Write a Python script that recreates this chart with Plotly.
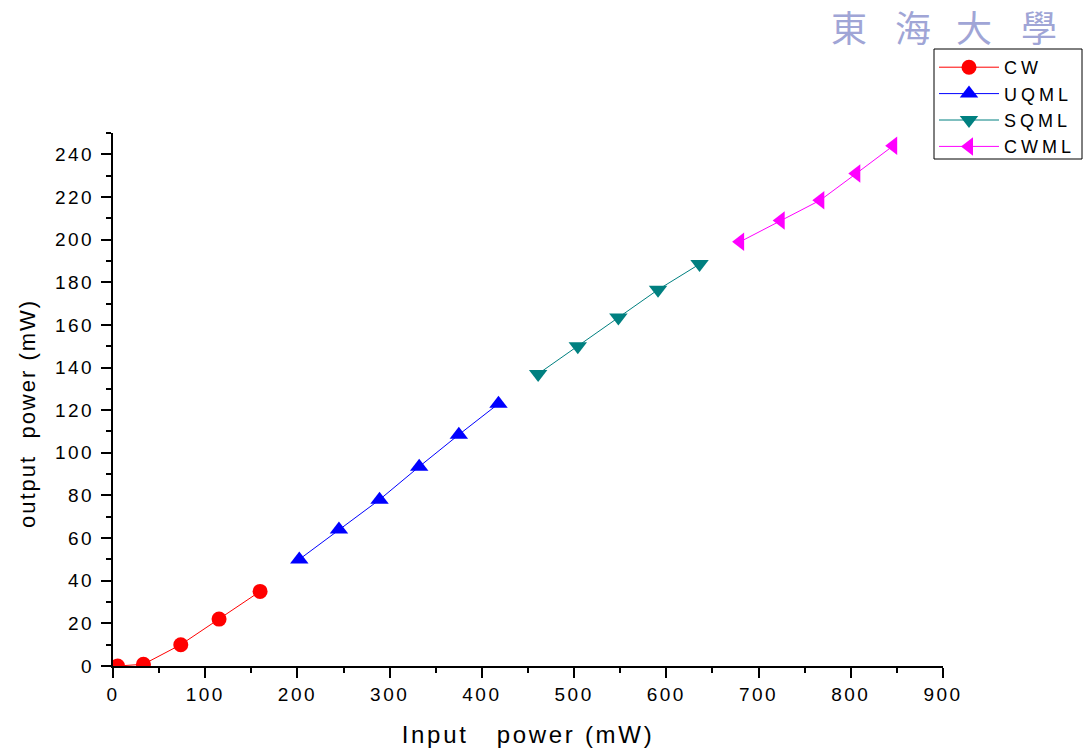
import plotly.graph_objects as go

# Input power (mW) and output power (mW) for each operating regime
cw_in = [5, 33, 73.5, 115, 159.5]
cw_out = [0, 0.8, 10, 22, 35]

uqml_in = [202, 245, 289, 332, 375, 418]
uqml_out = [50, 64, 78, 93.5, 108.5, 123]

sqml_in = [461, 504, 548, 591, 636]
sqml_out = [137, 150, 163.5, 176.5, 188.5]

cwml_in = [680, 724, 767, 806, 846]
cwml_out = [199, 209, 218.5, 231, 244]

x_ticks = [0, 100, 200, 300, 400, 500, 600, 700, 800, 900]
y_ticks = [0, 20, 40, 60, 80, 100, 120, 140, 160, 180, 200, 220, 240]

FONT = "Liberation Sans, Arial, sans-serif"

# Plot-area geometry in pixels, used to place paper-referenced items
L, R, T, B, W, H = 113, 144, 133, 89, 1087, 755
PW, PH = W - L - R, H - T - B


def px_x(px):
    return (px - L) / PW


def px_y(py):
    return (H - B - py) / PH


series = [
    ("CW", cw_in, cw_out, "#ff0000", "circle", 15),
    ("UQML", uqml_in, uqml_out, "#0000ff", "triangle-up", 16),
    ("SQML", sqml_in, sqml_out, "#008080", "triangle-down", 16),
    ("CWML", cwml_in, cwml_out, "#ff00ff", "triangle-left", 16),
]

fig = go.Figure()
for name, xs, ys, color, symbol, size in series:
    fig.add_trace(go.Scatter(
        x=xs, y=ys, name=name, mode="lines+markers",
        line=dict(color=color, width=1),
        marker=dict(color=color, symbol=symbol, size=size, line=dict(width=0)),
    ))

axis_common = dict(
    showgrid=False, zeroline=False, showline=True,
    linecolor="black", linewidth=2,
    ticks="outside", ticklen=10, tickwidth=2, tickcolor="black",
    tickfont=dict(family=FONT, size=19, color="black"),
    minor=dict(ticks="outside", ticklen=5, tickwidth=2, tickcolor="black"),
)

fig.update_xaxes(
    range=[0, 900], tickvals=x_ticks, ticktext=[str(v) for v in x_ticks],
    minor_dtick=50,
    title=dict(text="Input   power (mW)", font=dict(family=FONT, size=24, color="black"),
               standoff=22),
    **axis_common,
)
fig.update_yaxes(
    range=[0, 250], tickvals=y_ticks, ticktext=[str(v) for v in y_ticks],
    minor_dtick=10, ticklabelstandoff=3,
    **axis_common,
)

# Vertical axis label, placed beside the tick labels
fig.add_annotation(
    text="output  power (mW)", xref="paper", yref="paper",
    x=px_x(27), y=px_y(414),
    xanchor="center", yanchor="middle", textangle=-90, showarrow=False,
    font=dict(family=FONT, size=22, color="black"),
)

# Faint university seal lettering in the upper-right corner
seal_chars = ["東", "海", "大", "學"]
seal_x = [850, 914, 975, 1040]
for ch, px in zip(seal_chars, seal_x):
    fig.add_annotation(
        text=ch, xref="paper", yref="paper",
        x=px_x(px), y=px_y(26),
        xanchor="center", yanchor="middle", showarrow=False,
        font=dict(family="Noto Sans CJK TC", size=36, color="#a0a5d6"),
    )

# Frame around the legend entries
fig.add_shape(
    type="rect", xref="paper", yref="paper",
    x0=px_x(934), x1=px_x(1082), y0=px_y(159), y1=px_y(49),
    line=dict(color="black", width=1), fillcolor="rgba(0,0,0,0)", layer="above",
)

fig.update_layout(
    width=W, height=H,
    margin=dict(l=L, r=R, t=T, b=B),
    paper_bgcolor="white", plot_bgcolor="white",
    font=dict(family=FONT, color="black"),
    showlegend=True,
    legend=dict(
        x=px_x(934), y=px_y(49),
        xanchor="left", yanchor="top",
        borderwidth=0, bgcolor="rgba(0,0,0,0)",
        font=dict(family=FONT, size=18, color="black"),
        itemwidth=60, tracegroupgap=0,
    ),
)

# Wide letter spacing for the tick labels, titles and legend entries;
# the legend clip is lifted so the widened entry text stays whole
spacing_css = (
    "var s=document.createElement('style');"
    "s.textContent='"
    "g.xtick text, g.ytick text{letter-spacing:2.5px}"
    " text.xtitle{letter-spacing:2.7px}"
    " text.legendtext{letter-spacing:4px}"
    " g.legend g.scrollbox, g.legend{clip-path:none !important}"
    " g.annotation text{letter-spacing:2px}"
    "';document.head.appendChild(s);"
)

fig.write_html("out.html", post_script=spacing_css)
